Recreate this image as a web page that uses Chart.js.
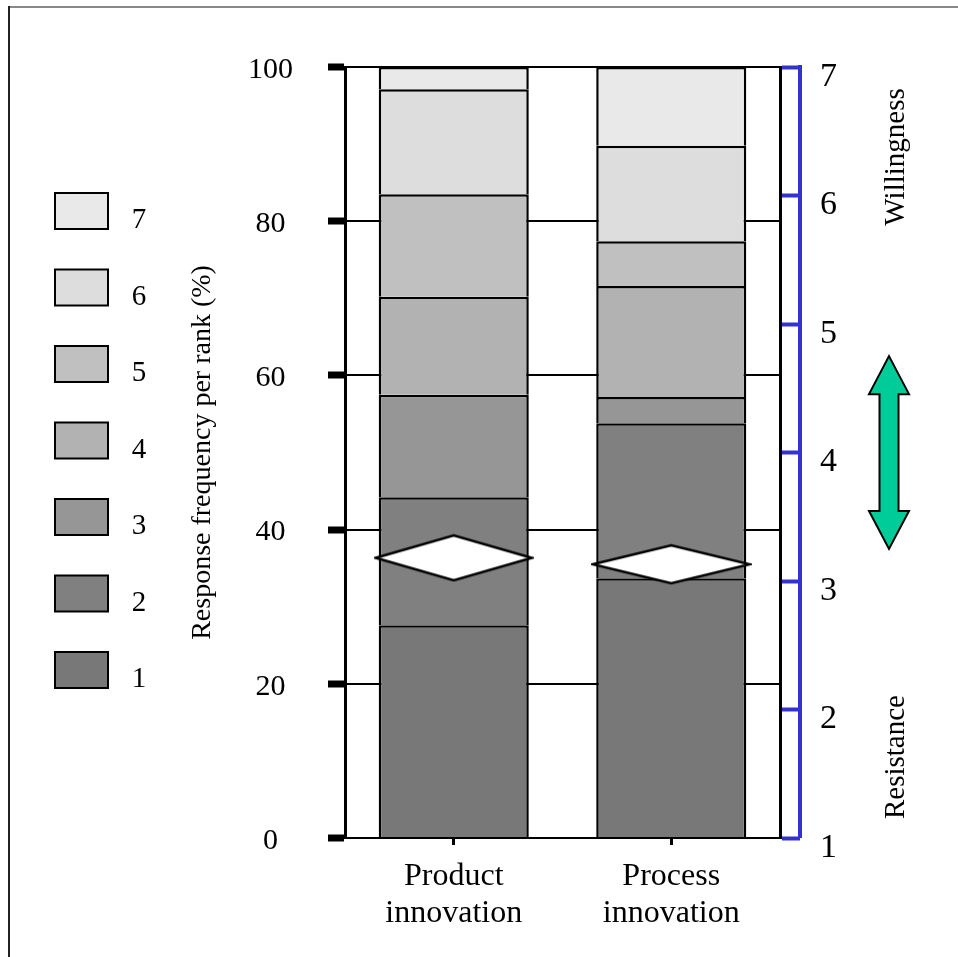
<!DOCTYPE html>
<html>
<head>
<meta charset="utf-8">
<script src="https://cdn.jsdelivr.net/npm/chart.js@4.4.0/dist/chart.umd.min.js"></script>
<style>
  html, body { margin: 0; padding: 0; background: #fff; }
  canvas { display: block; }
</style>
</head>
<body>
<canvas id="grafico" width="958" height="957"></canvas>
<script>
// Datos (porcentaje de respuestas por rango)
const categorias = [["Product", "innovation"], ["Process", "innovation"]];
const rangos = ["1", "2", "3", "4", "5", "6", "7"];
const rango1 = [27.6, 33.7];
const rango2 = [16.6, 20.1];
const rango3 = [13.3, 3.4];
const rango4 = [12.7, 14.4];
const rango5 = [13.3, 5.8];
const rango6 = [13.6, 12.4];
const rango7 = [2.9, 10.2];
const rangoMedio = [3.18, 3.13];

const coloresRango = ["#787878", "#808080", "#969696", "#b2b2b2", "#c0c0c0", "#dddddd", "#e9e9e9"];
const FUENTE = "'Liberation Serif', 'Times New Roman', serif";
const AZUL = "#3333cc";

function crearRombo(w, h) {
  const c = document.createElement("canvas");
  c.width = w + 4;
  c.height = h + 4;
  const g = c.getContext("2d");
  g.beginPath();
  g.moveTo(2, h / 2 + 2);
  g.lineTo(w / 2 + 2, 2);
  g.lineTo(w + 2, h / 2 + 2);
  g.lineTo(w / 2 + 2, h + 2);
  g.closePath();
  g.fillStyle = "#fff";
  g.fill();
  g.lineWidth = 2.5;
  g.strokeStyle = "#000";
  g.stroke();
  return c;
}

const valores = [rango1, rango2, rango3, rango4, rango5, rango6, rango7];

const datasets = valores.map((serie, i) => ({
  type: "bar",
  label: rangos[i],
  data: serie,
  backgroundColor: coloresRango[i],
  borderColor: "#000",
  borderWidth: 2.5,
  yAxisID: "y",
  order: 1
}));

datasets.push({
  type: "line",
  label: "media",
  data: rangoMedio,
  yAxisID: "rank",
  showLine: false,
  pointStyle: [crearRombo(156, 45), crearRombo(157, 38)],
  order: 0
});

// Leyenda, eje azul, flecha y textos laterales
const decoracion = {
  id: "decoracion",
  afterDraw(chart) {
    const ctx = chart.ctx;
    const rank = chart.scales.rank;
    ctx.save();

    // linea azul del eje derecho
    const xAzul = rank.left + 20;
    ctx.strokeStyle = AZUL;
    ctx.lineWidth = 4;
    ctx.beginPath();
    ctx.moveTo(xAzul, rank.getPixelForValue(7) - 2);
    ctx.lineTo(xAzul, rank.getPixelForValue(1));
    ctx.stroke();

    // textos Willingness / Resistance
    ctx.fillStyle = "#000";
    ctx.font = "29px " + FUENTE;
    ctx.textAlign = "center";
    ctx.textBaseline = "middle";
    [["Willingness", 6.3], ["Resistance", 1.63]].forEach(([t, v]) => {
      ctx.save();
      ctx.translate(rank.left + 116, rank.getPixelForValue(v));
      ctx.rotate(-Math.PI / 2);
      ctx.fillText(t, 0, 0);
      ctx.restore();
    });

    // flecha verde doble
    const xc = rank.left + 109;
    const yArr = rank.getPixelForValue(4.75);
    const yAb = rank.getPixelForValue(3.25);
    const cab = 38, mc = 20, mt = 9.5;
    ctx.beginPath();
    ctx.moveTo(xc, yArr);
    ctx.lineTo(xc + mc, yArr + cab);
    ctx.lineTo(xc + mt, yArr + cab);
    ctx.lineTo(xc + mt, yAb - cab);
    ctx.lineTo(xc + mc, yAb - cab);
    ctx.lineTo(xc, yAb);
    ctx.lineTo(xc - mc, yAb - cab);
    ctx.lineTo(xc - mt, yAb - cab);
    ctx.lineTo(xc - mt, yArr + cab);
    ctx.lineTo(xc - mc, yArr + cab);
    ctx.closePath();
    ctx.fillStyle = "#00cc99";
    ctx.fill();
    ctx.lineWidth = 2;
    ctx.strokeStyle = "#000";
    ctx.stroke();

    // leyenda (7 arriba, 1 abajo)
    ctx.font = "29px " + FUENTE;
    ctx.textBaseline = "alphabetic";
    for (let i = 0; i < rangos.length; i++) {
      const idx = rangos.length - 1 - i;
      const top = 193 + i * 76.5;
      ctx.fillStyle = coloresRango[idx];
      ctx.fillRect(55, top, 53, 36);
      ctx.lineWidth = 2;
      ctx.strokeStyle = "#000";
      ctx.strokeRect(55, top, 53, 36);
      ctx.fillStyle = "#000";
      ctx.fillText(rangos[idx], 139, top + 35);
    }

    // marco de la figura
    ctx.fillStyle = "#888";
    ctx.fillRect(9, 6, 949, 2);
    ctx.fillStyle = "#222";
    ctx.fillRect(8, 6, 2, 951);
    ctx.restore();
  }
};

new Chart(document.getElementById("grafico"), {
  data: { labels: categorias, datasets: datasets },
  options: {
    responsive: false,
    animation: false,
    layout: { padding: { top: 67, left: 0, right: 0, bottom: 0 } },
    datasets: { bar: { barPercentage: 0.69, categoryPercentage: 1 } },
    plugins: {
      legend: { display: false },
      tooltip: { enabled: false }
    },
    scales: {
      x: {
        stacked: true,
        offset: true,
        grid: { display: true, offset: false, drawOnChartArea: false, tickLength: 7, tickWidth: 3, tickColor: "#000" },
        border: { display: false },
        ticks: { color: "#000", font: { family: FUENTE, size: 32, lineHeight: 1.15 }, padding: 13, maxRotation: 0 },
        afterFit: s => { s.height = 119; }
      },
      y: {
        stacked: true,
        min: 0,
        max: 100,
        ticks: { stepSize: 20, color: "#000", font: { family: FUENTE, size: 30 }, padding: 35, crossAlign: "center", labelOffset: 3 },
        grid: { color: "#000", lineWidth: 2, tickLength: 17, tickWidth: 7, tickColor: "#000" },
        border: { color: "#000", width: 3 },
        title: {
          display: true,
          text: "Response frequency per rank (%)",
          color: "#000",
          font: { family: FUENTE, size: 28 },
          padding: { top: 186, bottom: 0 }
        },
        afterFit: s => { s.width = 345; }
      },
      rank: {
        position: "right",
        min: 1,
        max: 7,
        ticks: { stepSize: 1, color: "#000", font: { family: FUENTE, size: 34 }, padding: 20, labelOffset: 10 },
        grid: { drawOnChartArea: false, tickLength: 20, tickWidth: 4, tickColor: AZUL },
        border: { display: true, color: "#000", width: 3 },
        afterFit: s => { s.width = 178; }
      }
    }
  },
  plugins: [decoracion]
});
</script>
</body>
</html>
